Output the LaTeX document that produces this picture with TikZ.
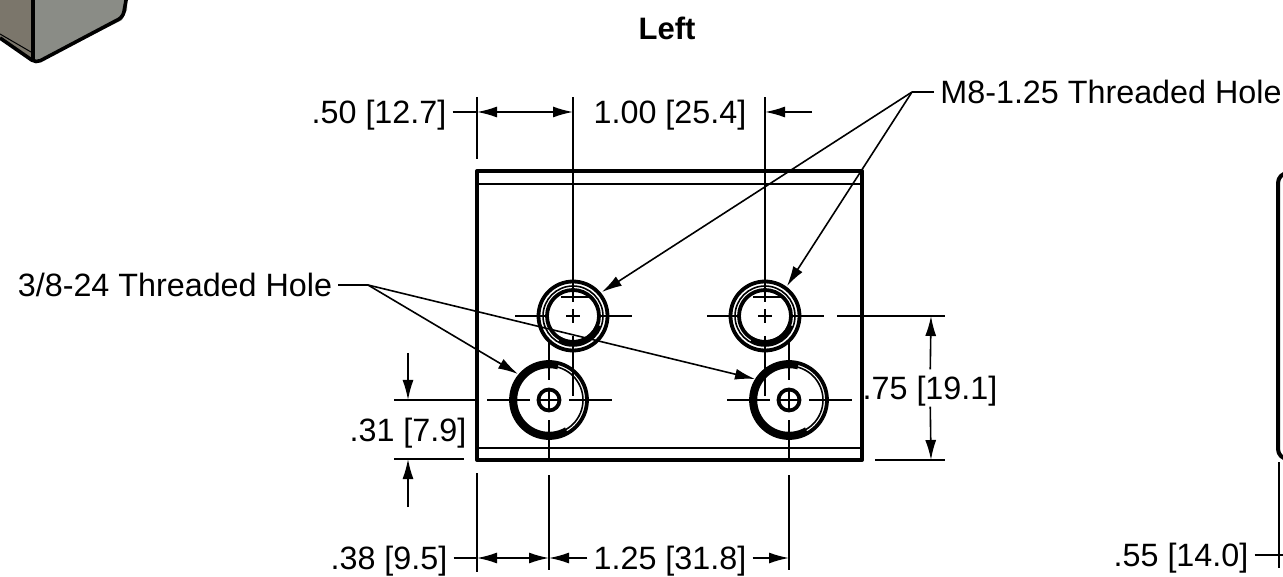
\documentclass[tikz,border=0pt]{standalone}
\usepackage{fontspec}
\setmainfont{Liberation Sans}
\usetikzlibrary{arrows.meta}
\definecolor{faceleft}{HTML}{7B766B}
\definecolor{faceright}{HTML}{8A8C86}
\tikzstyle{outline} = [line width=4pt, line join=round]
\tikzstyle{edgeline} = [line width=1.6pt]
\tikzstyle{thin line} = [line width=1.7pt]
\tikzstyle{ring} = [line width=3.8pt]
\tikzstyle{thread} = [line width=5.4pt]
\tikzstyle{dim} = [inner xsep=6pt, inner ysep=7pt, text height=23pt, text depth=0pt, font=\fontsize{32.3}{36}\selectfont]
\tikzstyle{lead} = [line width=1.6pt, >={Latex[length=20pt,width=11pt]}]

\begin{document}
\begin{tikzpicture}[x=1pt,y=-1pt]
    \useasboundingbox (0,0) rectangle (1283,577);
    % corner of the small view
    \fill [faceright] (33,-5) -- (33,60) -- (37,63) -- (122,20) -- (127,10) -- (127,-5) -- cycle;
    \fill [faceleft] (33,-5) -- (33,60) -- (0,38) -- (0,-5) -- cycle;
    \draw [line width=1pt] (0,34) -- (31,52);
    \draw [line width=3.6pt, rounded corners=5pt] (0,38) -- (36,63) -- (123,17) -- (127,-5);
    \draw [line width=3.6pt] (33,-5) -- (33,60);

    % part outline
    \draw [outline] (477,171) rectangle (862,460);
    \draw [edgeline] (477,184) -- (862,184);
    \draw [edgeline] (477,448) -- (862,448);
    % part cut by the page edge
    \draw [outline, rounded corners=10pt] (1295,173) -- (1278,173) -- (1278,459) -- (1295,459);

    \coordinate (holeA) at (573,316);
    \coordinate (holeB) at (765,316);
    \coordinate (holeC) at (549,400);
    \coordinate (holeD) at (789,400);

    \foreach \hole in {holeA,holeB} {
        \draw [ring] (\hole) circle (34.5);
        \draw [ring] (\hole) circle (26);
        \draw [edgeline] (\hole) circle (30);
        \draw [thread] (\hole) ++(20:27) arc (20:120:27);
        \draw [edgeline] (\hole) ++(-12,-19) -- ++(30,0);
        \draw [thin line] (\hole) ++(-58,0) -- ++(31,0);
        \draw [thin line] (\hole) ++(-7,0) -- ++(14,0);
        \draw [thin line] (\hole) ++(25,0) -- ++(34,0);
        \draw [thin line] (\hole) ++(0,-7) -- ++(0,14);
        \draw [thin line] (\hole) ++(0,-14) -- ++(0,-205);
        \draw [thin line] (\hole) ++(0,20) -- ++(0,60);
    }
    \foreach \hole in {holeC,holeD} {
        \draw [ring] (\hole) circle (38);
        \draw [edgeline] (\hole) circle (34);
        \draw [thread] (\hole) ++(60:34.5) arc (60:285:34.5);
        \draw [ring] (\hole) circle (10.5);
        \draw [thin line] (\hole) ++(-62,0) -- ++(43,0);
        \draw [thin line] (\hole) ++(-11,0) -- ++(22,0);
        \draw [thin line] (\hole) ++(20,0) -- ++(43,0);
        \draw [thin line] (\hole) ++(0,-60) -- ++(0,40);
        \draw [thin line] (\hole) ++(0,-11) -- ++(0,22);
        \draw [thin line] (\hole) ++(0,20) -- ++(0,38);
        \draw [thin line] (\hole) ++(0,75) -- ++(0,95);
    }

    % extension lines
    \draw [thin line] (477,97) -- (477,159);
    \draw [thin line] (477,473) -- (477,572);
    \draw [thin line] (837,316) -- (945,316);
    \draw [thin line] (875,460) -- (945,460);
    \draw [thin line] (394,400) -- (475,400);
    \draw [thin line] (394,459) -- (464,459);
    \draw [thin line] (1279,462) -- (1279,568);

    \node [font=\fontsize{31}{36}\selectfont\bfseries] (title) at (667,28) {Left};
    \node [dim] (dimTopA) at (379,112) {.50 [12.7]};
    \node [dim] (dimTopB) at (670,112) {1.00 [25.4]};
    \node [dim] (dimSideA) at (930,388) {.75 [19.1]};
    \node [dim] (dimSideB) at (408,430) {.31 [7.9]};
    \node [dim] (dimBotA) at (389,558) {.38 [9.5]};
    \node [dim] (dimBotB) at (670,558) {1.25 [31.8]};
    \node [dim] (dimEdge) at (1181,555) {.55 [14.0]};
    \node [dim] (threadM) at (1111,92) {M8-1.25 Threaded Hole};
    \node [dim] (threadN) at (175,285) {3/8-24 Threaded Hole};

    \coordinate (topA) at (477,112);
    \coordinate (topB) at (573,112);
    \coordinate (topC) at (765,112);
    \coordinate (topD) at (812,112);
    \coordinate (sideA) at (931,316);
    \coordinate (sideB) at (931,460);
    \coordinate (lowA) at (408,353);
    \coordinate (lowB) at (408,400);
    \coordinate (lowC) at (408,507);
    \coordinate (lowD) at (408,459);
    \coordinate (botA) at (477,558);
    \coordinate (botB) at (549,558);
    \coordinate (botC) at (789,558);
    \coordinate (edgeA) at (1283,555);
    \coordinate (jointM) at (912,92);
    \coordinate (jointN) at (368,285);
    \coordinate (tipA) at (602,292);
    \coordinate (tipB) at (787,286);
    \coordinate (tipC) at (518,374);
    \coordinate (tipD) at (755,379);

    \draw [lead] (dimTopA) -- (topA);
    \draw [lead,<->] (topA) -- (topB);
    \draw [lead,->] (topD) -- (topC);
    \draw [lead,->] (dimSideA) -- (sideA);
    \draw [lead,->] (dimSideA) -- (sideB);
    \draw [lead,->] (lowA) -- (lowB);
    \draw [lead,->] (lowC) -- (lowD);
    \draw [lead] (dimBotA) -- (botA);
    \draw [lead,<->] (botA) -- (botB);
    \draw [lead,->] (dimBotB) -- (botB);
    \draw [lead,->] (dimBotB) -- (botC);
    \draw [lead] (dimEdge) -- (edgeA);
    \draw [lead] (threadM) -- (jointM);
    \draw [lead,->] (jointM) -- (tipA);
    \draw [lead,->] (jointM) -- (tipB);
    \draw [lead] (threadN) -- (jointN);
    \draw [lead,->] (jointN) -- (tipC);
    \draw [lead,->] (jointN) -- (tipD);
\end{tikzpicture}
\end{document}
